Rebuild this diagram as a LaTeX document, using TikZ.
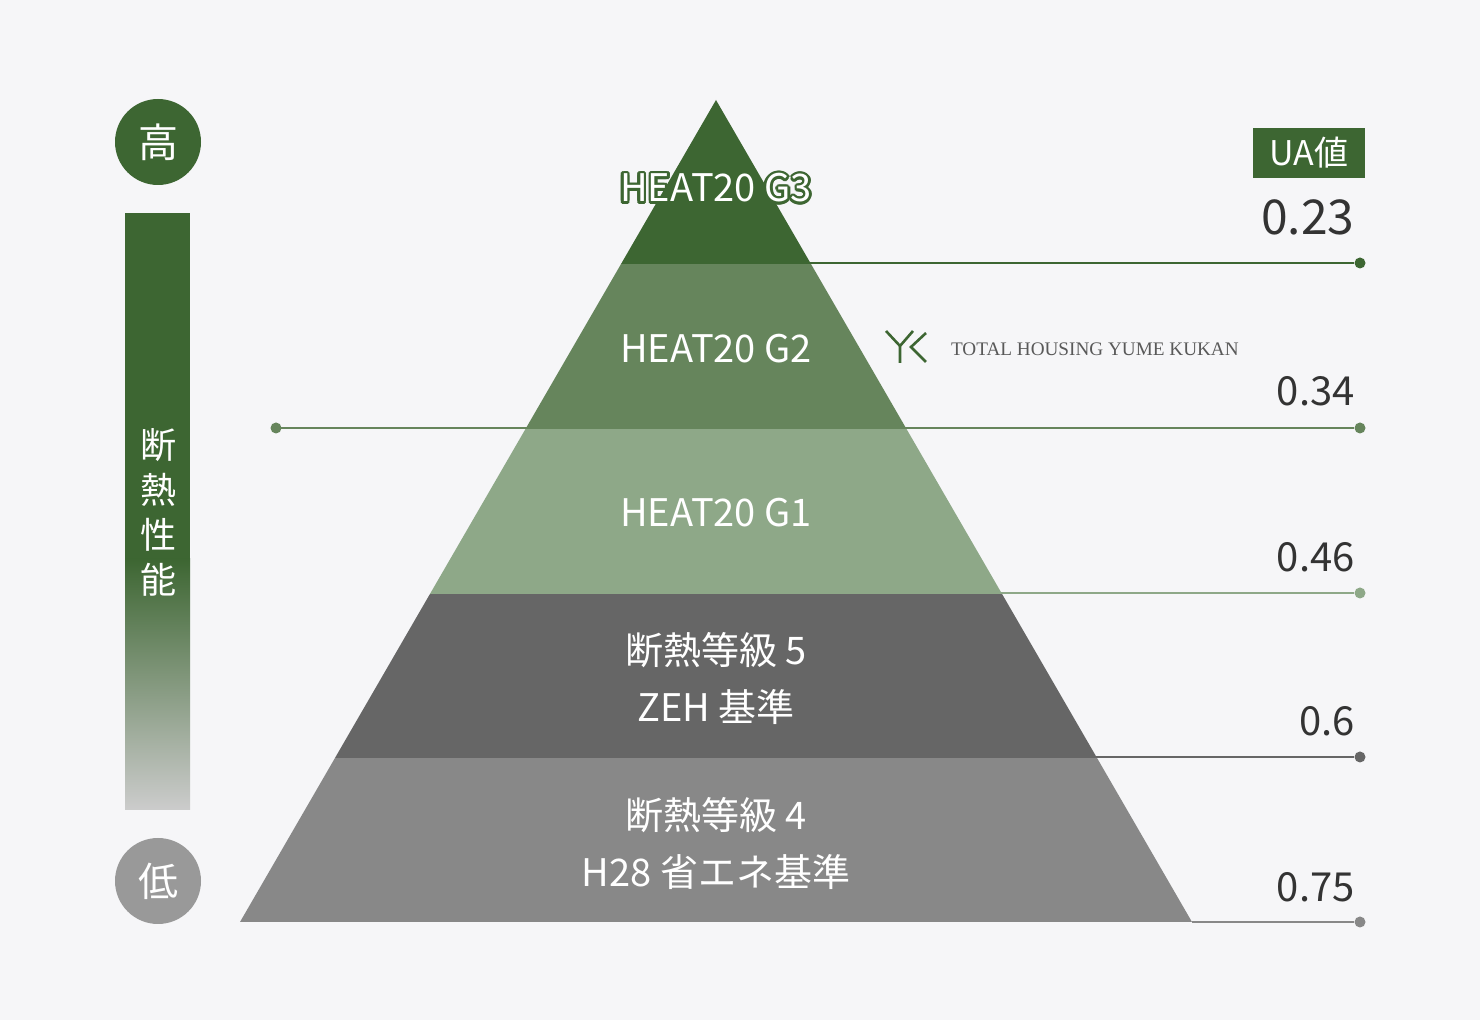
\documentclass[tikz,border=0pt]{standalone}
\usepackage{fontspec}
\usetikzlibrary{calc}
\setmainfont{Noto Sans CJK JP}
\newfontfamily\logofont{Liberation Serif}
\begin{document}
\begin{tikzpicture}[x=0.5pt,y=-0.5pt,
  lvl/.style={text=white,font=\fontsize{19}{28.5}\selectfont,align=center},
  val/.style={anchor=south east,text=black!80,font=\fontsize{20}{24}\selectfont,inner sep=0pt},
  dot/.style={circle,inner sep=0pt,minimum size=5.5pt}]
\definecolor{gA}{HTML}{3D6632}
\definecolor{gB}{HTML}{66855C}
\definecolor{gC}{HTML}{8EA888}
\definecolor{gD}{HTML}{666666}
\definecolor{gE}{HTML}{888888}
\definecolor{bg}{HTML}{F6F6F8}
\fill[bg] (0,0) rectangle (1480,1020);
% pyramid bands
\begin{scope}
\clip (716,100) -- (1192,922) -- (240,922) -- cycle;
\fill[gA] (200,90) rectangle (1240,264);
\fill[gB] (200,264) rectangle (1240,429);
\fill[gC] (200,429) rectangle (1240,594);
\fill[gD] (200,594) rectangle (1240,758);
\fill[gE] (200,758) rectangle (1240,923);
\end{scope}
% level labels
\foreach \a in {0,30,...,330}
  \node[lvl,text=gA] at ($(716,188)+(\a:2.6)$) {HEAT20 G3};
\node[lvl] (g3) at (716,188) {HEAT20 G3};
\node[lvl] (g2) at (716,349) {HEAT20 G2};
\node[lvl] (g1) at (716,513) {HEAT20 G1};
\node[lvl] (k5) at (716,678) {断熱等級 5\\ZEH 基準};
\node[lvl] (k4) at (716,843) {断熱等級 4\\H28 省エネ基準};
% value lines
\foreach \y/\xs/\c [count=\i] in {263/810/gA,428/276/gB,593/1000/gC,757/1095/gD,922/1192/gE}{
  \coordinate (s\i) at (\xs,\y);
  \node[dot,fill=\c] (d\i) at (1360,\y) {};
  \draw[\c,line width=0.8pt] (s\i) -- (d\i);
}
\node[dot,fill=gB] (d0) at (276,428) {};
\node[val,font=\fontsize{24}{28}\selectfont] (v1) at (1355,236) {0.23};
\node[val] (v2) at (1355,406) {0.34};
\node[val] (v3) at (1355,572) {0.46};
\node[val] (v4) at (1355,736) {0.6};
\node[val] (v5) at (1355,902) {0.75};
\node[fill=gA,text=white,minimum width=56pt,minimum height=25pt,inner sep=0pt,
  font=\fontsize{17}{20}\selectfont] (ua) at (1309,153) {UA値};
% left scale
\node[circle,fill=gA,minimum size=43pt,text=white,font=\fontsize{20}{24}\selectfont] (hi) at (158,142) {高};
\node[circle,fill=black!40,minimum size=43pt,text=white,font=\fontsize{20}{24}\selectfont] (lo) at (158,881) {低};
\fill[gA] (125,213) rectangle (190,560);
\shade[top color=gA,bottom color=black!20] (125,559) rectangle (190,810);
\node[text=white,align=center,font=\fontsize{18}{22.5}\selectfont] (perf) at (158,512) {断\\熱\\性\\能};
% logo
\draw[gA,line width=1.3pt] (886,331) -- (900,346) -- (900,363) (900,346) -- (913,331)
  (926,333) -- (911,347) -- (926,362);
\node[anchor=west,text=black!65,font=\logofont\fontsize{9.6}{12}\selectfont] (logo) at (944,349) {TOTAL HOUSING YUME KUKAN};
\end{tikzpicture}
\end{document}
